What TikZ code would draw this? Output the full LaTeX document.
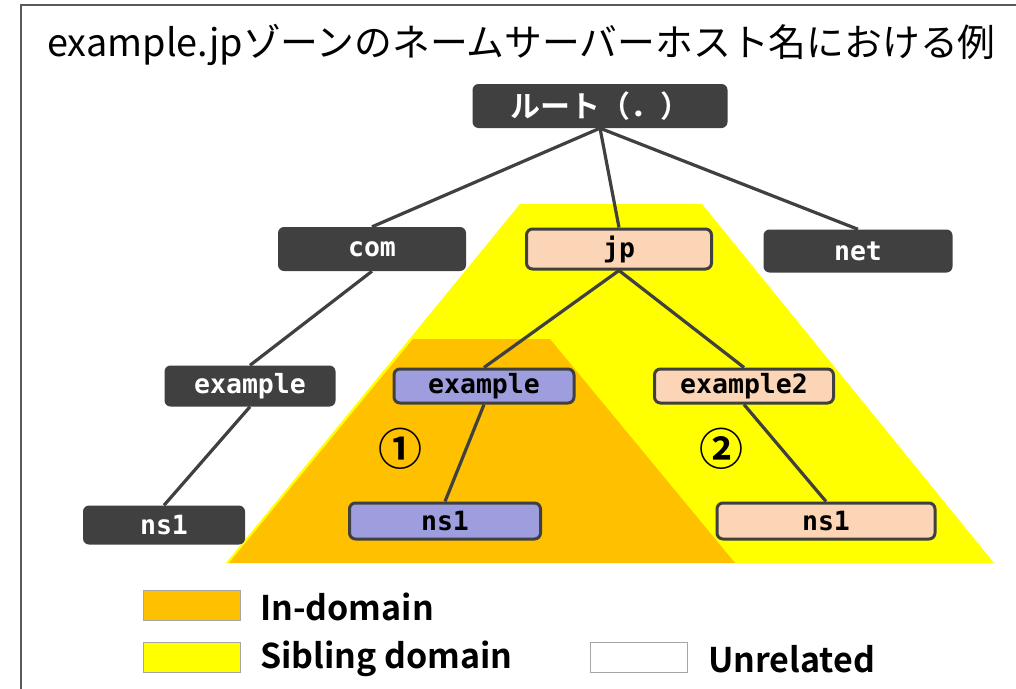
\documentclass[tikz,border=0pt]{standalone}
\usepackage{fontspec}
\newfontfamily\jpfont{Noto Sans CJK JP}
\newfontfamily\jpbold{Noto Sans CJK JP Bold}
\newfontfamily\monob{DejaVu Sans Mono Bold}
\definecolor{dk}{HTML}{404040}
\definecolor{ylw}{HTML}{FFFF00}
\definecolor{org}{HTML}{FFC000}
\definecolor{pch}{HTML}{FBD5B5}
\definecolor{lav}{HTML}{9E9EDE}
\definecolor{frm}{HTML}{595959}
\tikzset{
  dnode/.style={fill=dk, rounded corners=6pt, inner sep=0pt, text=white, font=\monob\fontsize{26.5}{26.5}\selectfont},
  lnode/.style={draw=dk, line width=3pt, rounded corners=6pt, inner sep=0pt, text=black, font=\monob\fontsize{26.5}{26.5}\selectfont},
  edge/.style={draw=dk, line width=3.2pt},
  swatch/.style={draw=gray!70, line width=1pt, inner sep=0pt, minimum width=97pt, minimum height=30pt},
  legtxt/.style={anchor=west, inner sep=0pt, font=\jpbold\fontsize{34}{34}\selectfont},
  numtxt/.style={inner sep=0pt, font=\jpbold\fontsize{44}{44}\selectfont}
}
\begin{document}
\begin{tikzpicture}[x=1pt, y=-1pt]
\useasboundingbox (0,0) rectangle (1016,688);
\clip (0,0) rectangle (1016,688);
\fill[white] (0,0) rectangle (1016,688);
\draw[frm, line width=2.5pt] (21,700) -- (21,5) -- (1030,5);
% title
\node[anchor=base west, inner sep=0pt, font=\jpfont\fontsize{37.8}{37.8}\selectfont] (title) at (47,56) {example.jpゾーンのネームサーバーホスト名における例};
% regions
\fill[ylw] (520,204) -- (702,204) -- (994,563) -- (226,563) -- cycle;
\fill[org] (413,339) -- (550,339) -- (735,563) -- (229,563) -- cycle;
% nodes
\node[dnode, minimum width=255pt, minimum height=44pt, font=\jpbold\fontsize{30}{30}\selectfont] (root) at (600,106) {ルート（．）};
\node[dnode, minimum width=188pt, minimum height=44pt] (com) at (372,249) {com};
\node[lnode, fill=pch, minimum width=185pt, minimum height=40pt] (jp) at (619,249) {jp};
\node[dnode, minimum width=189pt, minimum height=43pt] (net) at (858,251) {net};
\node[dnode, minimum width=171pt, minimum height=41pt] (exl) at (250,386) {example};
\node[lnode, fill=lav, minimum width=180pt, minimum height=34pt] (exm) at (484,386) {example};
\node[lnode, fill=pch, minimum width=179pt, minimum height=34pt] (ex2) at (744,386) {example2};
\node[dnode, minimum width=162pt, minimum height=39pt] (nsl) at (164,525) {ns1};
\node[lnode, fill=lav, minimum width=191pt, minimum height=36pt] (nsm) at (445,521) {ns1};
\node[lnode, fill=pch, minimum width=218pt, minimum height=36pt] (nsr) at (826,521) {ns1};
% edges
\draw[edge] (root.south) -- (com.north);
\draw[edge] (root.south) -- (jp.north);
\draw[edge] (root.south) -- (net.north);
\draw[edge] (com.south) -- (exl.north);
\draw[edge] (exl.south) -- (nsl.north);
\draw[edge] (jp.south) -- (exm.north);
\draw[edge] (jp.south) -- (ex2.north);
\draw[edge] (exm.south) -- (nsm.north);
\draw[edge] (ex2.south) -- (nsr.north);
% numbers
\node[numtxt] (n1) at (400,449) {①};
\node[numtxt] (n2) at (721,449) {②};
% legend
\node[swatch, fill=org] (s1) at (191.5,605) {};
\node[legtxt] (l1) at (260,607) {In-domain};
\node[swatch, fill=ylw] (s2) at (191.5,657) {};
\node[legtxt] (l2) at (260,659) {Sibling domain};
\node[swatch, fill=white] (s3) at (639,657) {};
\node[legtxt] (l3) at (708,659) {Unrelated};
\end{tikzpicture}
\end{document}
